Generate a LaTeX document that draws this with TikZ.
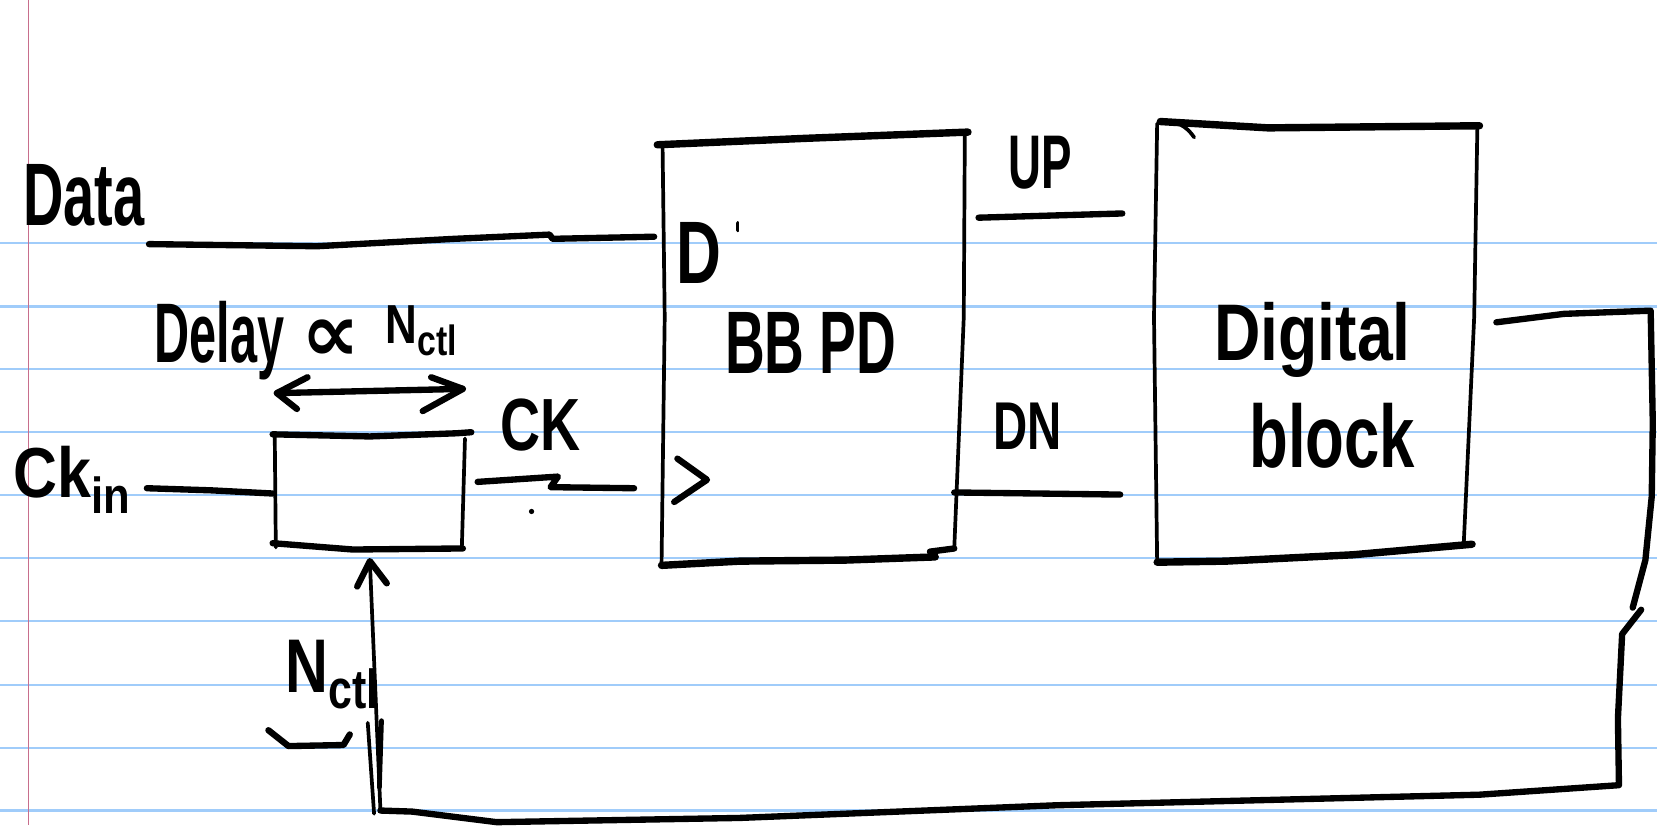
\documentclass[tikz,border=0pt]{standalone}
\usepackage{fontspec}
\setmainfont{Liberation Sans}
\newfontfamily\symfont{DejaVu Sans}
\usetikzlibrary{arrows.meta}
\definecolor{ruleblue}{RGB}{160,204,250}
\definecolor{marginred}{RGB}{200,110,140}
\newcommand{\hw}[3]{\scalebox{#1}[1]{\fontsize{#2}{#2}\selectfont\bfseries #3}}
\newcommand{\sub}[2]{\raisebox{-0.22em}{\fontsize{#1}{#1}\selectfont\bfseries #2}}
\begin{document}
\begin{tikzpicture}[x=1pt,y=-1pt,
  wire/.style={line width=6pt,line cap=round,line join=round},
  heavy/.style={line width=7pt,line cap=round,line join=round},
  side/.style={line width=3.5pt,line cap=round,line join=round},
  rule/.style={draw=ruleblue,line width=2pt},
  margin/.style={draw=marginred,line width=1.5pt},
  lbl/.style={inner sep=0pt,anchor=base west}]
\useasboundingbox (0,0) rectangle (1568,781);
\fill[white] (0,0) rectangle (1568,781);
\foreach \yy in {230,290,349,409,468,528,588,648,708,767} {\draw[rule] (0,\yy) -- (1568,\yy);}
\draw[margin] (27,0) -- (27,781);

% ---- labels ----
\node[lbl] (data) at (22,213) {\hw{0.63}{84}{Data}};
\node[lbl] (ckin) at (13,471) {\hw{0.86}{67}{Ck\sub{48}{in}}};
\node[lbl] (ck) at (473,426) {\hw{0.75}{70}{CK}};
\node[lbl] (delay) at (146,343) {\hw{0.575}{80}{Delay}};
\node[inner sep=0pt] (prop) at (313,322) {\fontsize{78}{78}\selectfont\symfont\bfseries ∝};
\node[lbl] (nctla) at (365,325) {\hw{0.8}{52}{N\sub{40}{ctl}}};
\node[lbl] (pd) at (686,353) {\hw{0.62}{84}{BB PD}};
\node[lbl] (pdd) at (640,268) {\hw{0.7}{84}{D}};
\node[lbl] (up) at (954,178) {\hw{0.6}{72}{UP}};
\node[lbl] (dn) at (940,425) {\hw{0.7}{64}{DN}};
\node[lbl] (dig) at (1149,341) {\hw{0.8}{76}{Digital}};
\node[lbl] (blk) at (1182,442) {\hw{0.715}{84}{block}};
\node[lbl] (nctlb) at (270,655) {\hw{0.78}{72}{N\sub{52}{ctl}}};

% ---- BB PD box ----
\draw[heavy] (622,137) -- (760,131) -- (916,125);
\draw[side] (627,140) -- (629,300) -- (626,535);
\draw[side] (913,127) -- (912,300) -- (903,519);
\draw[heavy] (626,535) -- (700,531) -- (800,530) -- (885,527);
\draw[wire] (880,522) -- (903,519);
\draw[wire] (641,434) -- (669,454) -- (638,475);
\draw[side] (698,211) -- (698,218);

% ---- Digital block ----
\draw[heavy] (1098,115) -- (1200,121) -- (1400,119);
\draw[side] (1095,117) -- (1092,300) -- (1095,532);
\draw[side] (1398,120) -- (1395,300) -- (1385,517);
\draw[heavy] (1095,532) -- (1160,531) -- (1280,525) -- (1393,515);
\draw[side] (1100,115) to[bend left=30] (1130,130);

% ---- delay box ----
\draw[wire] (258,411) -- (350,413) -- (432,410) -- (446,409);
\draw[side] (260,413) -- (261,518);
\draw[side] (440,415) -- (437,519);
\draw[wire] (258,514) -- (334,520) -- (438,519);

% ---- wires ----
\coordinate (dataS) at (141,231);
\coordinate (pdD) at (619,224);
\draw[wire] (dataS) -- (300,233) -- (430,226) -- (520,222) -- (523,226) -- (pdD);

\coordinate (ckinS) at (139,462);
\coordinate (dlyIn) at (258,467);
\draw[wire] (ckinS) -- (200,464) -- (dlyIn);

\coordinate (dlyOut) at (452,456);
\coordinate (ckE) at (600,462);
\draw[wire] (dlyOut) -- (528,451) -- (521,461) -- (ckE);
\fill (503,484) circle (2.5);

\coordinate (upS) at (926,206);
\coordinate (upE) at (1062,202);
\draw[wire] (upS) -- (upE);
\coordinate (dnS) at (903,466);
\coordinate (dnE) at (1060,468);
\draw[wire] (dnS) -- (dnE);

% ---- feedback loop ----
\coordinate (digOut) at (1416,305);
\coordinate (fbCorner) at (360,767);
\coordinate (dlyCtl) at (350,531);
\draw[wire] (digOut) -- (1480,297) -- (1562,294) -- (1564,400) -- (1563,470) -- (1557,530) -- (1545,575);
\draw[wire] (1553,577) -- (1535,600) -- (1531,680) -- (1532,743) -- (1400,752) -- (1000,762) -- (700,774) -- (470,778) -- (390,768) -- (fbCorner);
\draw[side] (fbCorner) -- (dlyCtl);
\draw[wire] (338,555) -- (dlyCtl) -- (366,552);
\draw[side] (348,684) -- (354,770);
\draw[line width=4.5pt,line cap=round] (361,682) -- (359,745);
\draw[wire] (254,691) -- (273,706) -- (325,705) -- (331,695);

% ---- delay double arrow ----
\coordinate (dlA) at (262,372);
\coordinate (dlB) at (438,368);
\draw[wire] (dlA) -- (dlB);
\draw[wire] (291,357) -- (dlA) -- (281,387);
\draw[wire] (408,357) -- (dlB) -- (400,389);
\end{tikzpicture}
\end{document}
